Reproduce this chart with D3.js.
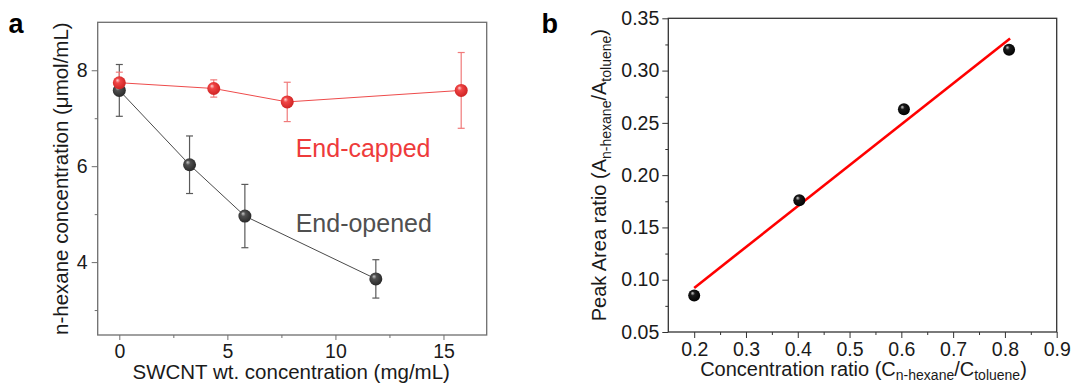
<!DOCTYPE html>
<html>
<head>
<meta charset="utf-8">
<script src="https://cdn.jsdelivr.net/npm/d3@7"></script>
<style>
  html, body { margin: 0; padding: 0; background: #fff; }
  svg { display: block; font-family: "Liberation Sans", Arial, sans-serif; }
</style>
</head>
<body>
<svg id="fig" width="1074" height="383"></svg>
<script>
// ---- Panel a: n-hexane uptake vs SWCNT loading ----
const cappedX   = [0, 4.37, 7.77, 15.82];
const cappedY   = [7.74, 7.62, 7.34, 7.58];
const cappedErr = [0.22, 0.18, 0.41, 0.79];

const openedX   = [0, 3.25, 5.81, 11.87];
const openedY   = [7.58, 6.03, 4.96, 3.65];
const openedErr = [0.54, 0.60, 0.66, 0.40];

const ticksA_x = [0, 5, 10, 15];
const minorA_x = [2.5, 7.5, 12.5];
const ticksA_y = [4, 6, 8];
const minorA_y = [3, 5, 7];

// ---- Panel b: GC calibration ----
const ratioX = [0.2, 0.403, 0.605, 0.808];
const areaY  = [0.085, 0.176, 0.263, 0.320];
const fitSpan = [0.2, 0.81];

const ticksB_x = [0.2, 0.3, 0.4, 0.5, 0.6, 0.7, 0.8, 0.9];
const minorB_x = [0.25, 0.35, 0.45, 0.55, 0.65, 0.75, 0.85];
const ticksB_y = [0.05, 0.10, 0.15, 0.20, 0.25, 0.30, 0.35];
const minorB_y = [0.075, 0.125, 0.175, 0.225, 0.275, 0.325];

const svg = d3.select("#fig");
const defs = svg.append("defs");

function sphere(id, c0, c1, c2) {
  const g = defs.append("radialGradient").attr("id", id)
    .attr("cx", "0.45").attr("cy", "0.45").attr("r", "0.6")
    .attr("fx", "0.35").attr("fy", "0.3");
  g.append("stop").attr("offset", "0").attr("stop-color", c0);
  g.append("stop").attr("offset", "0.3").attr("stop-color", c1);
  g.append("stop").attr("offset", "1").attr("stop-color", c2);
}
sphere("ballRed", "#ffd6d6", "#f04646", "#cc2020");
sphere("ballGrey", "#c8c8c8", "#505050", "#252525");
sphere("ballBlack", "#d0d0d0", "#1a1a1a", "#000000");

function tickAxis(g, scale, major, minor, orient, fmt, color, majorLen, minorLen, pad) {
  const ax = (orient === "bottom" ? d3.axisBottom(scale) : d3.axisLeft(scale))
    .tickValues(major).tickSize(majorLen).tickPadding(pad).tickFormat(fmt);
  const gg = g.call(ax);
  gg.select(".domain").remove();
  gg.selectAll(".tick line").attr("stroke", color).attr("stroke-width", 1);
  gg.selectAll(".tick text").attr("fill", "#1a1a1a").style("font-size", "19.5px")
    .style("font-family", '"Liberation Sans", Arial, sans-serif');
  const ax2 = (orient === "bottom" ? d3.axisBottom(scale) : d3.axisLeft(scale))
    .tickValues(minor).tickSize(minorLen).tickFormat("");
  const m = g.append("g").call(ax2);
  m.select(".domain").remove();
  m.selectAll(".tick line").attr("stroke", color).attr("stroke-width", 1);
}

// ================= Panel a =================
const xA = d3.scaleLinear().domain([-1, 17]).range([97.7, 486.7]);
const yA = d3.scaleLinear().domain([2.48, 9]).range([335, 22.3]);
const frameA = "#6e6e6e";

const pa = svg.append("g");
pa.append("rect").attr("x", xA(-1)).attr("y", yA(9))
  .attr("width", xA(17) - xA(-1)).attr("height", yA(2.48) - yA(9))
  .attr("fill", "none").attr("stroke", frameA).attr("stroke-width", 1.3);

tickAxis(pa.append("g").attr("transform", `translate(0,${yA(2.48)})`),
  xA, ticksA_x, minorA_x, "bottom", d3.format("d"), frameA, 5, 3, 4);
tickAxis(pa.append("g").attr("transform", `translate(${xA(-1)},0)`),
  yA, ticksA_y, minorA_y, "left", d3.format("d"), frameA, 6, 3, 4);

function series(g, xs, ys, es, lineColor, errColor) {
  const pts = xs.map((x, i) => ({ x, y: ys[i], e: es[i] }));
  g.append("path").datum(pts)
    .attr("fill", "none").attr("stroke", lineColor).attr("stroke-width", 1)
    .attr("d", d3.line().x(d => xA(d.x)).y(d => yA(d.y)));
  const eb = g.selectAll(null).data(pts).enter().append("g")
    .attr("stroke", errColor).attr("stroke-width", 1.2);
  eb.append("line").attr("x1", d => xA(d.x)).attr("x2", d => xA(d.x))
    .attr("y1", d => yA(d.y + d.e)).attr("y2", d => yA(d.y - d.e));
  eb.append("line").attr("x1", d => xA(d.x) - 3.5).attr("x2", d => xA(d.x) + 3.5)
    .attr("y1", d => yA(d.y + d.e)).attr("y2", d => yA(d.y + d.e));
  eb.append("line").attr("x1", d => xA(d.x) - 3.5).attr("x2", d => xA(d.x) + 3.5)
    .attr("y1", d => yA(d.y - d.e)).attr("y2", d => yA(d.y - d.e));
  return pts;
}
const openedPts = series(pa, openedX, openedY, openedErr, "#4a4a4a", "#5a5a5a");
const cappedPts = series(pa, cappedX, cappedY, cappedErr, "#ee4b4b", "#f07a7a");

pa.selectAll(null).data(openedPts).enter().append("circle")
  .attr("cx", d => xA(d.x)).attr("cy", d => yA(d.y)).attr("r", 6.5)
  .attr("fill", "url(#ballGrey)");
pa.selectAll(null).data(cappedPts).enter().append("circle")
  .attr("cx", d => xA(d.x)).attr("cy", d => yA(d.y)).attr("r", 6.5)
  .attr("fill", "url(#ballRed)");

pa.append("text").attr("x", xA(8.16)).attr("y", 156.7)
  .attr("fill", "#ee3b3b").style("font-size", "25px").text("End-capped");
pa.append("text").attr("x", xA(8.16)).attr("y", 231.7)
  .attr("fill", "#505050").style("font-size", "25px").text("End-opened");

pa.append("text").attr("x", (xA(-1) + xA(17)) / 2 - 1).attr("y", 379)
  .attr("text-anchor", "middle").attr("fill", "#1a1a1a").style("font-size", "20.5px")
  .text("SWCNT wt. concentration (mg/mL)");
pa.append("text").attr("transform", `translate(68,${(yA(2.48) + yA(9)) / 2}) rotate(-90)`)
  .attr("text-anchor", "middle").attr("fill", "#1a1a1a").style("font-size", "20.5px")
  .text("n-hexane concentration (μmol/mL)");

svg.append("text").attr("x", 8.5).attr("y", 33).attr("font-weight", "bold")
  .style("font-size", "27px").attr("fill", "#000").text("a");

// ================= Panel b =================
const xB = d3.scaleLinear().domain([0.15, 0.9]).range([668.3, 1056.7]);
const yB = d3.scaleLinear().domain([0.05, 0.35]).range([332, 18.3]);
const frameB = "#333";

const pb = svg.append("g");
pb.append("rect").attr("x", xB(0.15)).attr("y", yB(0.35))
  .attr("width", xB(0.9) - xB(0.15)).attr("height", yB(0.05) - yB(0.35))
  .attr("fill", "none").attr("stroke", frameB).attr("stroke-width", 1.3);

tickAxis(pb.append("g").attr("transform", `translate(0,${yB(0.05)})`),
  xB, ticksB_x, minorB_x, "bottom", d3.format(".1f"), frameB, 6, 3, 4);
tickAxis(pb.append("g").attr("transform", `translate(${xB(0.15)},0)`),
  yB, ticksB_y, minorB_y, "left", d3.format(".2f"), frameB, 6, 3, 3);

// least-squares line through the calibration points
const mx = d3.mean(ratioX), my = d3.mean(areaY);
const slope = d3.sum(ratioX, (x, i) => (x - mx) * (areaY[i] - my)) /
              d3.sum(ratioX, x => (x - mx) * (x - mx));
const icpt = my - slope * mx;
pb.append("line")
  .attr("x1", xB(fitSpan[0])).attr("y1", yB(icpt + slope * fitSpan[0]))
  .attr("x2", xB(fitSpan[1])).attr("y2", yB(icpt + slope * fitSpan[1]))
  .attr("stroke", "#ff0000").attr("stroke-width", 2.6);

pb.selectAll(null).data(ratioX.map((x, i) => ({ x, y: areaY[i] }))).enter()
  .append("circle").attr("cx", d => xB(d.x)).attr("cy", d => yB(d.y)).attr("r", 6)
  .attr("fill", "url(#ballBlack)");

const xt = pb.append("text").attr("x", (xB(0.15) + xB(0.9)) / 2 + 1).attr("y", 376)
  .attr("text-anchor", "middle").attr("fill", "#1a1a1a").style("font-size", "20px");
xt.append("tspan").text("Concentration ratio (C");
xt.append("tspan").attr("dy", 4).style("font-size", "14px").text("n-hexane");
xt.append("tspan").attr("dy", -4).text("/C");
xt.append("tspan").attr("dy", 4).style("font-size", "14px").text("toluene");
xt.append("tspan").attr("dy", -4).text(")");

const yt = pb.append("text")
  .attr("transform", `translate(606,${(yB(0.05) + yB(0.35)) / 2}) rotate(-90)`)
  .attr("text-anchor", "middle").attr("fill", "#1a1a1a").style("font-size", "20px");
yt.append("tspan").text("Peak Area ratio (A");
yt.append("tspan").attr("dy", 5).style("font-size", "14px").text("n-hexane");
yt.append("tspan").attr("dy", -5).text("/A");
yt.append("tspan").attr("dy", 5).style("font-size", "14px").text("toluene");
yt.append("tspan").attr("dy", -5).text(")");

svg.append("text").attr("x", 541.5).attr("y", 33).attr("font-weight", "bold")
  .style("font-size", "27px").attr("fill", "#000").text("b");
</script>
</body>
</html>
